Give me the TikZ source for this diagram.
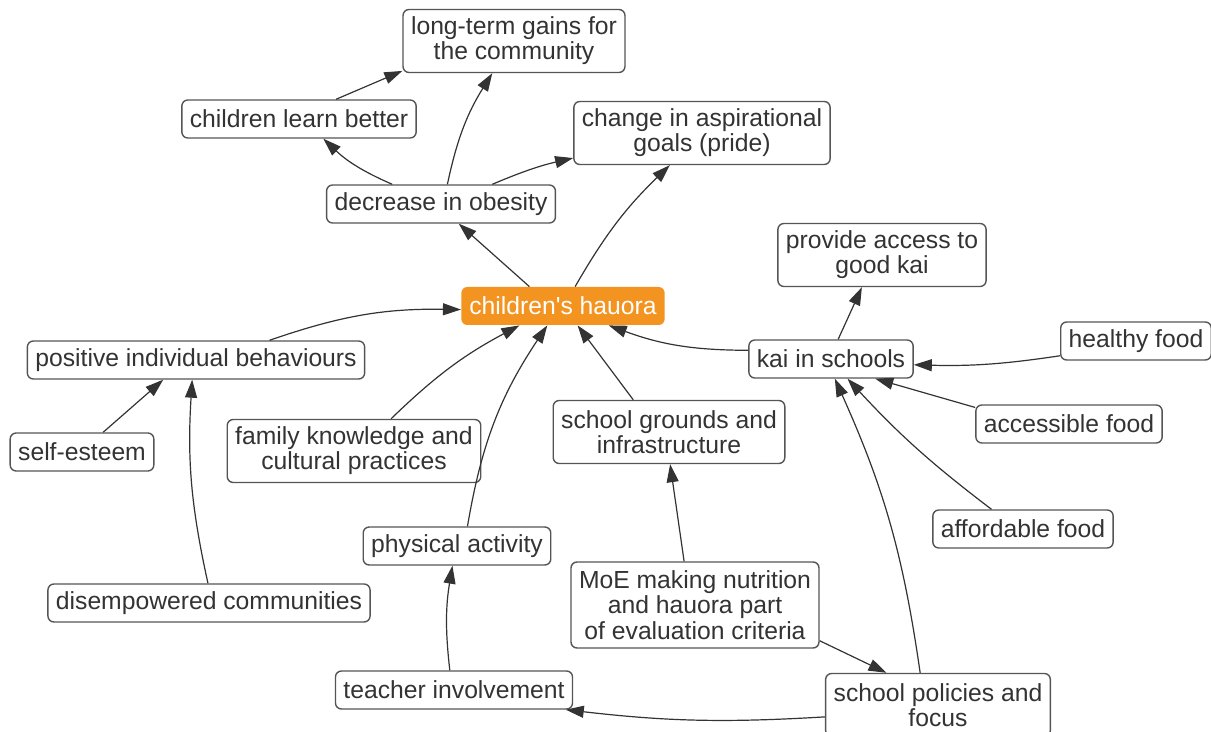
\documentclass[tikz,border=0pt]{standalone}
\usepackage{fontspec}
\setmainfont{Liberation Sans}
\usetikzlibrary{arrows.meta}
\definecolor{hauoraorange}{HTML}{F39320}
\definecolor{boxgrey}{HTML}{555555}
\definecolor{inkgrey}{HTML}{333333}

\begin{document}
\begin{tikzpicture}[x=0.5pt, y=-0.5pt,
  every node/.style={font=\fontsize{12.35}{12.6}\selectfont, text=inkgrey},
  idea/.style={draw=boxgrey, line width=0.7pt, rounded corners=3pt, fill=white,
    inner xsep=4pt, inner ysep=2pt, minimum height=19pt, align=center},
  twolines/.style={minimum height=31.5pt},
  threelines/.style={minimum height=43pt},
  focus/.style={fill=hauoraorange, rounded corners=3pt, inner xsep=4pt,
    minimum height=19pt, text=white},
  link/.style={draw=inkgrey, line width=0.6pt, -{Triangle[length=9pt,width=6pt]}}]
% Canvas (pixel grid of the map)
\useasboundingbox (0,0) rectangle (1211,732);

% Central outcome
\node[focus] (hauora) at (563,306) {children\textquotesingle s hauora};

% Outcomes above
\node[idea, twolines] (gains) at (514,41) {long-term gains for\\the community};
\node[idea] (learn) at (299,119) {children learn better};
\node[idea, twolines] (pride) at (702,133) {change in aspirational\\goals (pride)};
\node[idea] (obesity) at (441,204) {decrease in obesity};

% Kai cluster (right)
\node[idea, twolines] (access) at (882,255) {provide access to\\good kai};
\node[idea] (kai) at (831,359) {kai in schools};
\node[idea] (healthy) at (1136,341) {healthy food};
\node[idea] (accessible) at (1069,424) {accessible food};
\node[idea] (affordable) at (1023,529) {affordable food};

% Behaviours (left)
\node[idea] (positive) at (196,360) {positive individual behaviours};
\node[idea] (esteem) at (82,452) {self-esteem};
\node[idea] (disemp) at (209,603) {disempowered communities};
\node[idea, twolines] (family) at (354,451) {family knowledge and\\cultural practices};

% School side (bottom)
\node[idea, twolines] (grounds) at (669,432) {school grounds and\\infrastructure};
\node[idea] (physical) at (457,546) {physical activity};
\node[idea, threelines] (moe) at (695,605) {MoE making nutrition\\and hauora part\\of evaluation criteria};
\node[idea] (teacher) at (454,690) {teacher involvement};
\node[idea, twolines] (policies) at (938,705) {school policies and\\focus};

% Links above the centre
\draw[link] (learn.28) -- (gains.195);
\draw[link] (obesity.158) to[bend left=10] (learn.321);
\draw[link] (obesity.72) to[bend left=10] (gains.236);
\draw[link] (obesity.21) to[bend left=5] (pride.191);
\draw[link] (hauora.150) -- (obesity.312);
\draw[link] (hauora.58) to[bend left=8] (pride.225);

% Links of the kai cluster
\draw[link] (kai.174) to[bend left=10] (hauora.337);
\draw[link] (kai.70) -- (access.238);
\draw[link] (healthy.191) to[bend left=5] (kai.356);
\draw[link] (accessible.170) -- (kai.336);
\draw[link] (affordable.148) to[bend left=5] (kai.310);
\draw[link] (policies.119) to[bend right=8] (kai.281);

% Links of the school side
\draw[link] (policies.186) to[bend left=5] (teacher.350);
\draw[link] (moe.344) -- (policies.148);
\draw[link] (moe.104) -- (grounds.272);
\draw[link] (grounds.138) -- (hauora.307);
\draw[link] (teacher.102) to[bend left=8] (physical.257);
\draw[link] (physical.62) to[bend left=12] (hauora.231);

% Links of the behaviours
\draw[link] (family.41) to[bend left=8] (hauora.204);
\draw[link] (positive.15) to[bend left=10] (hauora.182);
\draw[link] (esteem.43) -- (positive.211);
\draw[link] (disemp.93) to[bend left=8] (positive.259);
\end{tikzpicture}
\end{document}
